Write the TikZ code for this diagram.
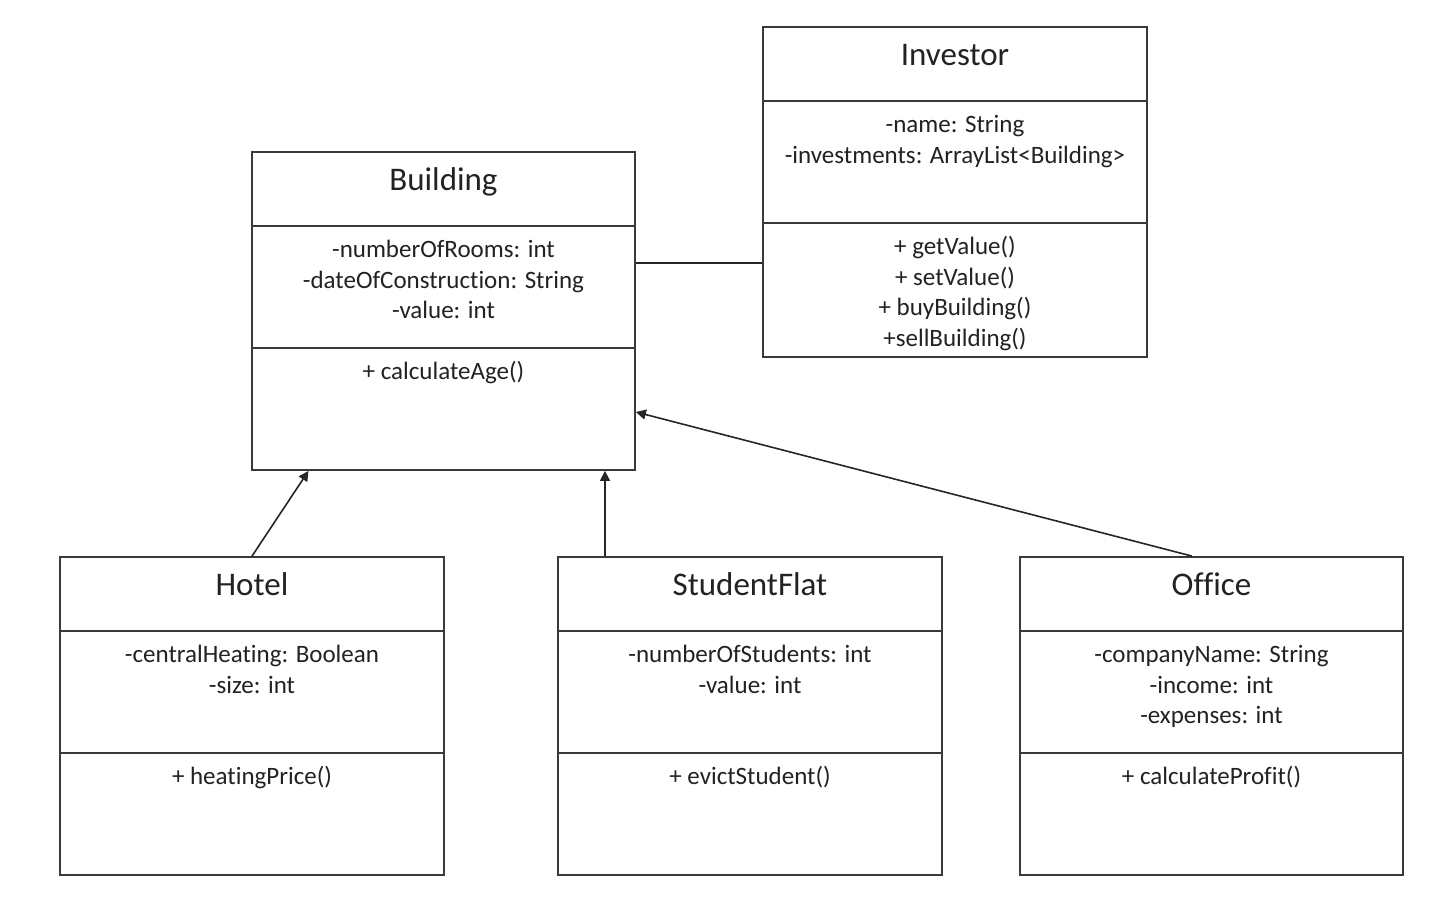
\documentclass[tikz,border=0pt]{standalone}
\usepackage{fontspec}
\setmainfont{Carlito}[Ligatures=NoCommon]
\usetikzlibrary{arrows.meta}
\definecolor{linec}{HTML}{3A3A3A}
\definecolor{textc}{HTML}{222222}
\tikzset{
  classbox/.style={draw=linec, line width=0.9pt, fill=white, inner sep=0pt, rectangle},
  classline/.style={draw=linec, line width=0.9pt},
  titletext/.style={font=\fontsize{16.5}{19}\selectfont, text=textc, anchor=base, inner sep=0pt},
  membertext/.style={font=\fontsize{12.5}{15}\selectfont, text=textc, anchor=base, inner sep=0pt},
  conn/.style={draw=black!85, line width=0.8pt},
  inherit/.style={conn, -{Triangle[length=5pt,width=5pt]}}
}
\newcommand{\umlclass}[7]{%
  \node[classbox, minimum width=#3, minimum height=#4] (#1) at (#2) {};
  \draw[classline] ([yshift=-37.5pt]#1.north west) -- ([yshift=-37.5pt]#1.north east);
  \draw[classline] ([yshift=-98.5pt]#1.north west) -- ([yshift=-98.5pt]#1.north east);
  \node[titletext] (#1-t) at ([yshift=-19.5pt]#1.north) {#5};
  \foreach \l [count=\i] in {#6} {
    \node[membertext] (#1-a\i) at ([yshift={-53.2pt-15.25pt*(\i-1)}]#1.north) {\l};
  }
  \foreach \l [count=\i] in {#7} {
    \node[membertext] (#1-m\i) at ([yshift={-114.2pt-15.25pt*(\i-1)}]#1.north) {\l};
  }
}
\begin{document}
\begin{tikzpicture}[x=0.5pt,y=-0.5pt]
\useasboundingbox (0,0) rectangle (1446,900);
\fill[white] (0,0) rectangle (1446,900);

\umlclass{I}{955,192}{192pt}{165pt}{Investor}%
  {-name: String, -investments: ArrayList<Building>}%
  {+ getValue(), + setValue(), + buyBuilding(), +sellBuilding()}
\umlclass{B}{443.5,311}{191.5pt}{159pt}{Building}%
  {-numberOfRooms: int, -dateOfConstruction: String, -value: int}%
  {+ calculateAge()}
\umlclass{H}{252,716}{192pt}{159pt}{Hotel}%
  {-centralHeating: Boolean, -size: int}%
  {+ heatingPrice()}
\umlclass{S}{750,716}{192pt}{159pt}{StudentFlat}%
  {-numberOfStudents: int, -value: int}%
  {+ evictStudent()}
\umlclass{O}{1211.5,716}{191.5pt}{159pt}{Office}%
  {-companyName: String, -income: int, -expenses: int}%
  {+ calculateProfit()}

% association
\draw[conn] ([yshift=24pt]B.east) -- ([yshift=24pt]B.east -| I.west);
% inheritance
\draw[inherit] (H.north) -- ([xshift=-67.5pt]B.south);
\draw[inherit] ([xshift=-72.5pt]S.north) -- ([xshift=-72.5pt]S.north |- B.south);
\draw[inherit] ([xshift=-9.75pt]O.north) -- ([yshift=-50.5pt]B.east);
\end{tikzpicture}
\end{document}
